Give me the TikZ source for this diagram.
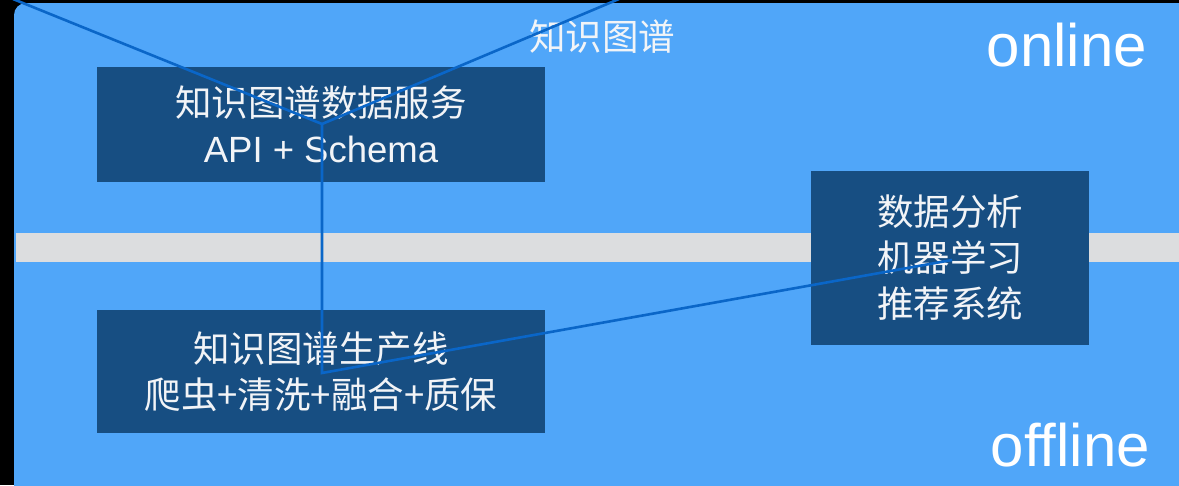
\documentclass[tikz,border=0pt]{standalone}
\usepackage{fontspec}
\setmainfont{Noto Sans CJK SC}
\newfontfamily\latfont{Liberation Sans}
\definecolor{bgblue}{HTML}{50A6F9}
\definecolor{boxblue}{HTML}{174E82}
\definecolor{bandgray}{HTML}{DCDDDF}
\definecolor{linkblue}{HTML}{0A66C8}
\definecolor{txt}{HTML}{F2F4F7}
\begin{document}
\begin{tikzpicture}[x=1pt,y=-1pt,
  darkbox/.style={fill=boxblue,draw=none,text=txt,align=center,inner sep=0pt,
    font=\fontsize{36.5}{46}\selectfont},
  biglabel/.style={text=white,font=\latfont\fontsize{60}{64}\selectfont,inner sep=0pt},
  link/.style={draw=linkblue,line width=2.6pt}]
\useasboundingbox (0,0) rectangle (1179,485);
\fill[black] (0,0) rectangle (1179,485);
\fill[bgblue,rounded corners=12pt] (14,3) rectangle (1200,505);
\fill[bandgray] (16,233) rectangle (1179,262);
% boxes
\node[darkbox,minimum width=448pt,minimum height=115pt] (svc) at (321,124.5)
  {知识图谱数据服务\\{\latfont API + Schema}};
\node[darkbox,minimum width=448pt,minimum height=123pt] (prod) at (321,371.5)
  {知识图谱生产线\\爬虫+清洗+融合+质保};
\node[darkbox,minimum width=278pt,minimum height=174pt] (ana) at (950,258)
  {数据分析\\机器学习\\推荐系统};
% labels
\node[text=txt,font=\fontsize{36.5}{40}\selectfont,inner sep=0pt] (kg) at (602,37) {知识图谱};
\node[biglabel,anchor=east] (on) at (1147,45) {online};
\node[biglabel,anchor=east] (off) at (1150,445) {offline};
% connectors
\coordinate (j1) at (322,124);
\coordinate (j2) at (322,373);
\coordinate (tl) at (13,-1);
\coordinate (tr) at (619,-1);
\coordinate (rt) at (952,260);
\begin{scope}
\clip (0,0) rectangle (1179,485);
\draw[link] (tl) -- (j1) -- (tr);
\draw[link] (j1) -- (j2) -- (rt);
\end{scope}
\end{tikzpicture}
\end{document}
